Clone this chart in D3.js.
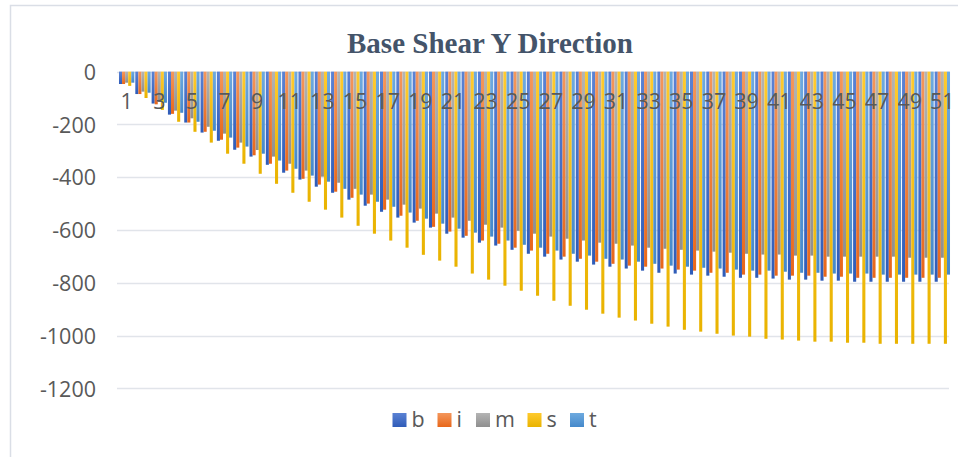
<!DOCTYPE html>
<html>
<head>
<meta charset="utf-8">
<script src="https://cdn.jsdelivr.net/npm/d3@7/dist/d3.min.js"></script>
<style>
  html, body { margin: 0; padding: 0; background: #fff; }
  svg { display: block; }
</style>
</head>
<body>
<script>
const categories = ["1","2","3","4","5","6","7","8","9","10","11","12","13","14","15","16","17","18","19","20","21","22","23","24","25","26","27","28","29","30","31","32","33","34","35","36","37","38","39","40","41","42","43","44","45","46","47","48","49","50","51"];
const seriesNames = ["b","i","m","s","t"];
const bValues = [-47,-85,-121,-163,-193,-231,-262,-296,-322,-353,-383,-409,-436,-459,-485,-508,-531,-553,-572,-591,-614,-629,-648,-659,-675,-690,-701,-712,-720,-731,-739,-746,-754,-762,-765,-769,-773,-777,-781,-781,-784,-788,-788,-792,-792,-796,-796,-796,-796,-796,-796];
const iValues = [-47,-85,-124,-160,-193,-228,-258,-288,-317,-349,-375,-406,-428,-455,-478,-500,-523,-546,-565,-588,-606,-622,-640,-652,-667,-678,-690,-701,-709,-720,-728,-735,-739,-746,-750,-754,-762,-762,-769,-769,-773,-773,-773,-777,-777,-781,-781,-781,-781,-781,-781];
const mValues = [-42,-76,-115,-148,-177,-209,-235,-269,-297,-322,-349,-375,-398,-421,-444,-466,-485,-504,-519,-538,-553,-565,-580,-591,-603,-614,-625,-633,-640,-648,-652,-659,-667,-671,-675,-678,-682,-686,-690,-693,-693,-697,-697,-701,-701,-701,-701,-701,-705,-705,-705];
const sValues = [-54,-100,-145,-190,-228,-269,-311,-349,-387,-425,-459,-493,-523,-553,-584,-614,-640,-667,-694,-716,-739,-765,-788,-811,-830,-849,-868,-887,-902,-917,-932,-943,-955,-966,-978,-985,-993,-1000,-1004,-1012,-1015,-1019,-1023,-1023,-1027,-1027,-1031,-1031,-1031,-1031,-1031];
const tValues = [-42,-80,-118,-156,-190,-224,-250,-284,-311,-337,-368,-394,-417,-444,-466,-493,-512,-534,-557,-576,-595,-610,-625,-640,-656,-667,-678,-690,-697,-709,-712,-720,-728,-735,-739,-743,-746,-750,-754,-754,-758,-762,-762,-765,-765,-765,-769,-769,-769,-769,-769];
const yTicks = [0,-200,-400,-600,-800,-1000,-1200];
const titleText = "Base Shear Y Direction";

const seriesValues = [bValues, iValues, mValues, sValues, tValues];
const seriesColors = [
  ["#5b82d4", "#2f5cb8"],
  ["#f4975c", "#e8671a"],
  ["#b4b4b4", "#8f8f8f"],
  ["#ffca2e", "#e9b300"],
  ["#6eaadf", "#4589cb"]
];

const W = 958, H = 457;
const svg = d3.select("body").append("svg").attr("width", W).attr("height", H);

const defs = svg.append("defs");
seriesNames.forEach((n, k) => {
  const g = defs.append("linearGradient").attr("id", "grad" + k)
    .attr("x1", 0).attr("y1", 0).attr("x2", 0).attr("y2", 1);
  g.append("stop").attr("offset", "0%").attr("stop-color", seriesColors[k][0]);
  g.append("stop").attr("offset", "100%").attr("stop-color", seriesColors[k][1]);
});

// chart frame (cropped)
svg.append("path").attr("d", "M10.5,457 L10.5,5.5 L958,5.5")
  .attr("fill", "none").attr("stroke", "#dadee6").attr("stroke-width", 1.5);

const x = d3.scaleBand().domain(categories).range([118.5, 950.5]).paddingInner(0.06).paddingOuter(0.03);
const xs = d3.scaleBand().domain(seriesNames).range([0, x.bandwidth()]);
const y = d3.scaleLinear().domain([-1200, 0]).range([388.4, 71.6]);

const fontNum = "'Open Sans', 'Liberation Sans', sans-serif";

// gridlines
svg.append("g").selectAll("line").data(yTicks).join("line")
  .attr("x1", 117).attr("x2", 949)
  .attr("y1", d => Math.round(y(d)) + 0.5).attr("y2", d => Math.round(y(d)) + 0.5)
  .attr("stroke", "#e1e4ea").attr("stroke-width", 1.5);

// bars
const groups = svg.append("g").selectAll("g").data(categories).join("g")
  .attr("transform", d => `translate(${x(d)},0)`);
groups.selectAll("rect").data((c, ci) => seriesNames.map((s, k) => ({s, k, v: seriesValues[k][ci]})))
  .join("rect")
  .attr("x", d => xs(d.s))
  .attr("width", xs.bandwidth())
  .attr("y", y(0))
  .attr("height", d => y(d.v) - y(0))
  .attr("fill", d => `url(#grad${d.k})`);

// y axis
const yAxis = d3.axisLeft(y).tickValues(yTicks).tickSize(0).tickPadding(0).tickFormat(d => String(d));
const ya = svg.append("g").attr("transform", "translate(96,0)").call(yAxis);
ya.select(".domain").remove();
ya.selectAll("text").attr("fill", "#595959").attr("font-size", 21.5).attr("font-family", fontNum).attr("dy", "0.36em");

// x axis labels (odd categories only)
const xAxis = d3.axisBottom(x).tickSize(0).tickPadding(0)
  .tickFormat((d, i) => (i % 2 === 0 ? d : ""));
const xa = svg.append("g").attr("transform", `translate(0,${y(0)})`).call(xAxis);
xa.select(".domain").remove();
xa.selectAll("text").attr("fill", "#595959").attr("font-size", 21.5).attr("font-family", fontNum).attr("dy", "0").attr("y", 37);

// title
svg.append("text").attr("x", 490).attr("y", 53).attr("text-anchor", "middle")
  .attr("font-family", "'Liberation Serif', 'Times New Roman', serif").attr("font-weight", "bold")
  .attr("font-size", 29).attr("fill", "#44546a").text(titleText);

// legend
const legendX = [392.5, 437.5, 476, 527.5, 570];
const lg = svg.append("g").selectAll("g").data(seriesNames).join("g")
  .attr("transform", (d, k) => `translate(${legendX[k]},413)`);
lg.append("rect").attr("width", 14).attr("height", 14).attr("fill", (d, k) => `url(#grad${k})`);
lg.append("text").attr("x", 19).attr("y", 14).attr("font-size", 21.5).attr("font-family", fontNum)
  .attr("fill", "#595959").text(d => d);
</script>
</body>
</html>
